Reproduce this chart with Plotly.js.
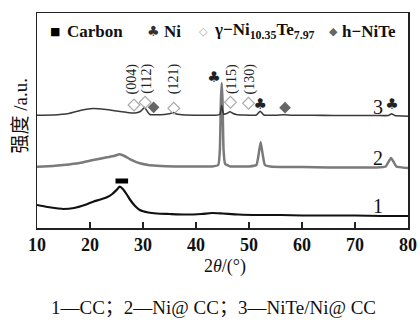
<!DOCTYPE html>
<html>
<head>
<meta charset="utf-8">
<script src="https://cdn.plot.ly/plotly-3.0.1.min.js"></script>
<style>html,body{margin:0;padding:0;background:#fff;}#chart{width:420px;height:320px;}</style>
</head>
<body>
<div id="chart"></div>
<script>
// Curve 1: CC
const x1 = [10, 12, 14, 15, 17, 19, 20.6, 22, 23.2, 24.2, 25, 25.6, 26.2, 27, 27.6, 28.5, 29.4, 31, 32.6, 35, 38, 41, 43, 45, 48, 52, 56, 60, 65, 70, 75, 80];
const y1 = [23, 21, 19.5, 19, 20, 23, 26.3, 28.5, 30.7, 34, 38, 41.3, 39, 33, 28, 22, 18, 15.5, 14.5, 14, 13.5, 14, 15, 14.5, 13.5, 13, 13, 12.5, 12.5, 12.5, 12, 12];
// Curve 2: Ni@CC
const x2 = [10, 13, 15, 18, 20.6, 23.2, 24.5, 25.6, 26.5, 27.6, 29.4, 31, 32.6, 36, 40, 43, 44.2, 44.5, 44.7, 44.85, 45.0, 45.2, 45.5, 46.5, 48, 50, 51.4, 51.8, 52.2, 52.6, 53, 54, 57, 60, 65, 70, 74, 75.8, 76.3, 76.8, 77.3, 77.8, 80];
const y2 = [61.3, 62, 63, 65, 68, 70.7, 72, 73.7, 72, 68.7, 64.7, 63, 62.3, 61.5, 61.5, 61.5, 63, 78, 128, 145, 128, 78, 64, 61.5, 61.5, 61.5, 63, 73, 86, 73, 63, 61.5, 61, 61, 60.5, 60.5, 60.5, 61.5, 66, 70, 66, 61.5, 60];
// Curve 3: NiTe/Ni@CC
const x3 = [10, 13, 16, 18.5, 20.6, 23, 25, 27, 28.5, 29.4, 29.9, 30.3, 30.7, 31.3, 32.5, 34, 35.2, 35.7, 36.3, 38, 41, 43.5, 44.5, 44.85, 45.2, 45.8, 46.4, 47, 47.6, 49, 51.4, 52.1, 52.8, 55, 56.5, 58, 62, 66, 70, 74, 76.3, 76.9, 77.5, 80];
const y3 = [112.8, 113, 114.5, 118, 119.5, 118.5, 117, 115.5, 115, 116.2, 118.5, 120.8, 117.5, 113.5, 113.2, 113.5, 114.5, 115.5, 114, 113, 112.8, 112.8, 113.5, 122.5, 114, 114.5, 116.2, 114.5, 113.5, 113, 113, 116.8, 113, 112.8, 113.2, 112.8, 112.8, 112.5, 112.5, 112.5, 112.5, 114.2, 112.5, 111.8];

// Phase markers
const carbonX = [26.0], carbonY = [47];
const niX = [43.4, 52.1, 77.0], niY = [150, 122.3, 122.3];
const gammaX = [28.3, 30.4, 35.8, 46.5, 49.9], gammaY = [123, 125.7, 119.7, 125.7, 124.7];
const hNiTeX = [32.0, 56.8], hNiTeY = [120.7, 120.3];

// hkl labels
const hklText = ['(004)', '(112)', '(121)', '(115)', '(130)'];
const hklX = [28.0, 30.7, 35.9, 46.8, 50.1];
const hklY = [149, 149, 149, 149, 149];

// curve labels
const curveLabels = ['1', '2', '3'];
const curveLabelX = [74.3, 74.3, 74.3];
const curveLabelY = [22, 70, 121.5];

const xTicks = [10, 20, 30, 40, 50, 60, 70, 80];

const SERIF = 'Liberation Serif, Noto Sans CJK SC';

const traces = [
  {x: x1, y: y1, mode: 'lines', line: {color: '#111', width: 2.2, shape: 'spline', smoothing: 0.6}, showlegend: false},
  {x: x2, y: y2, mode: 'lines', line: {color: '#7a7a7a', width: 2.5, shape: 'spline', smoothing: 0.4}, showlegend: false},
  {x: x3, y: y3, mode: 'lines', line: {color: '#3a3a3a', width: 1.6, shape: 'spline', smoothing: 0.4}, showlegend: false},
  {x: carbonX, y: carbonY, mode: 'markers', marker: {symbol: 'line-ew', size: 9, line: {color: '#000', width: 5}}, showlegend: false},
  {x: gammaX, y: gammaY, mode: 'markers', marker: {symbol: 'diamond-open', size: 9, color: '#aaa', line: {width: 1.2, color: '#aaa'}}, showlegend: false},
  {x: hNiTeX, y: hNiTeY, mode: 'markers', marker: {symbol: 'diamond', size: 9, color: '#666'}, showlegend: false},
  {x: niX, y: niY, mode: 'text', text: niX.map(() => '♣'), textfont: {family: 'DejaVu Sans', size: 15, color: '#222'}, textposition: 'middle center', showlegend: false}
];

const annotations = [];
hklText.forEach((t, i) => annotations.push({x: hklX[i], y: hklY[i], xref: 'x', yref: 'y', text: t, textangle: -90, showarrow: false, font: {family: SERIF, size: 14, color: '#222'}}));
curveLabels.forEach((t, i) => annotations.push({x: curveLabelX[i], y: curveLabelY[i], xref: 'x', yref: 'y', text: t, showarrow: false, font: {family: SERIF, size: 20, color: '#111'}}));

// legend (as annotations)
const legY = 0.916;
const legendSyms = [
  {x: 0.0485, t: '■', c: '#000', s: 11, f: 'DejaVu Sans'},
  {x: 0.315, t: '♣', c: '#333', s: 14, f: 'DejaVu Sans'},
  {x: 0.450, t: '◇', c: '#aaa', s: 11, f: 'DejaVu Sans'},
  {x: 0.798, t: '◆', c: '#666', s: 11, f: 'DejaVu Sans'}
];
legendSyms.forEach(s => annotations.push({x: s.x, y: legY, xref: 'paper', yref: 'paper', text: s.t, showarrow: false, xanchor: 'center', yanchor: 'middle', font: {family: s.f, size: s.s, color: s.c}}));
const legendTexts = [
  {x: 0.0755, t: '<b>Carbon</b>'},
  {x: 0.337, t: '<b>Ni</b>'},
  {x: 0.472, t: '<b>γ−Ni<sub>10.35</sub>Te<sub>7.97</sub></b>'},
  {x: 0.817, t: '<b>h−NiTe</b>'}
];
legendTexts.forEach(s => annotations.push({x: s.x, y: legY, xref: 'paper', yref: 'paper', text: s.t, showarrow: false, xanchor: 'left', yanchor: 'middle', font: {family: 'Liberation Serif', size: 17, color: '#111'}}));

// axis titles & caption
annotations.push({x: -0.045, y: 0.52, xref: 'paper', yref: 'paper', xanchor: 'center', yanchor: 'middle', text: '强度 /a.u.', textangle: -90, showarrow: false, font: {family: SERIF, size: 19, color: '#111'}});
annotations.push({x: 0.507, y: -0.177, xref: 'paper', yref: 'paper', xanchor: 'center', yanchor: 'middle', text: '2<i>θ</i>/(°)', showarrow: false, font: {family: 'Liberation Serif', size: 18, color: '#111'}});
annotations.push({x: 0.477, y: -0.372, xref: 'paper', yref: 'paper', xanchor: 'center', yanchor: 'middle', text: '1—CC；2—Ni@ CC；3—NiTe/Ni@ CC', showarrow: false, font: {family: SERIF, size: 19, color: '#111'}});

const layout = {
  width: 420, height: 320,
  margin: {l: 37, r: 12, t: 13, b: 92},
  paper_bgcolor: '#fff', plot_bgcolor: '#fff',
  showlegend: false,
  xaxis: {
    range: [10, 80], tickvals: xTicks, ticktext: xTicks.map(v => '<b>' + v + '</b>'),
    ticks: 'inside', ticklen: 6, tickwidth: 1.2, tickcolor: '#222',
    showline: true, linecolor: '#222', linewidth: 1.5, mirror: true,
    showgrid: false, zeroline: false,
    tickfont: {family: 'Liberation Serif', size: 18, color: '#111'}
  },
  yaxis: {
    range: [0, 215], showticklabels: false, ticks: '',
    showline: true, linecolor: '#222', linewidth: 1.5, mirror: true,
    showgrid: false, zeroline: false
  },
  annotations: annotations
};

Plotly.newPlot('chart', traces, layout, {displayModeBar: false, staticPlot: true});
</script>
</body>
</html>
